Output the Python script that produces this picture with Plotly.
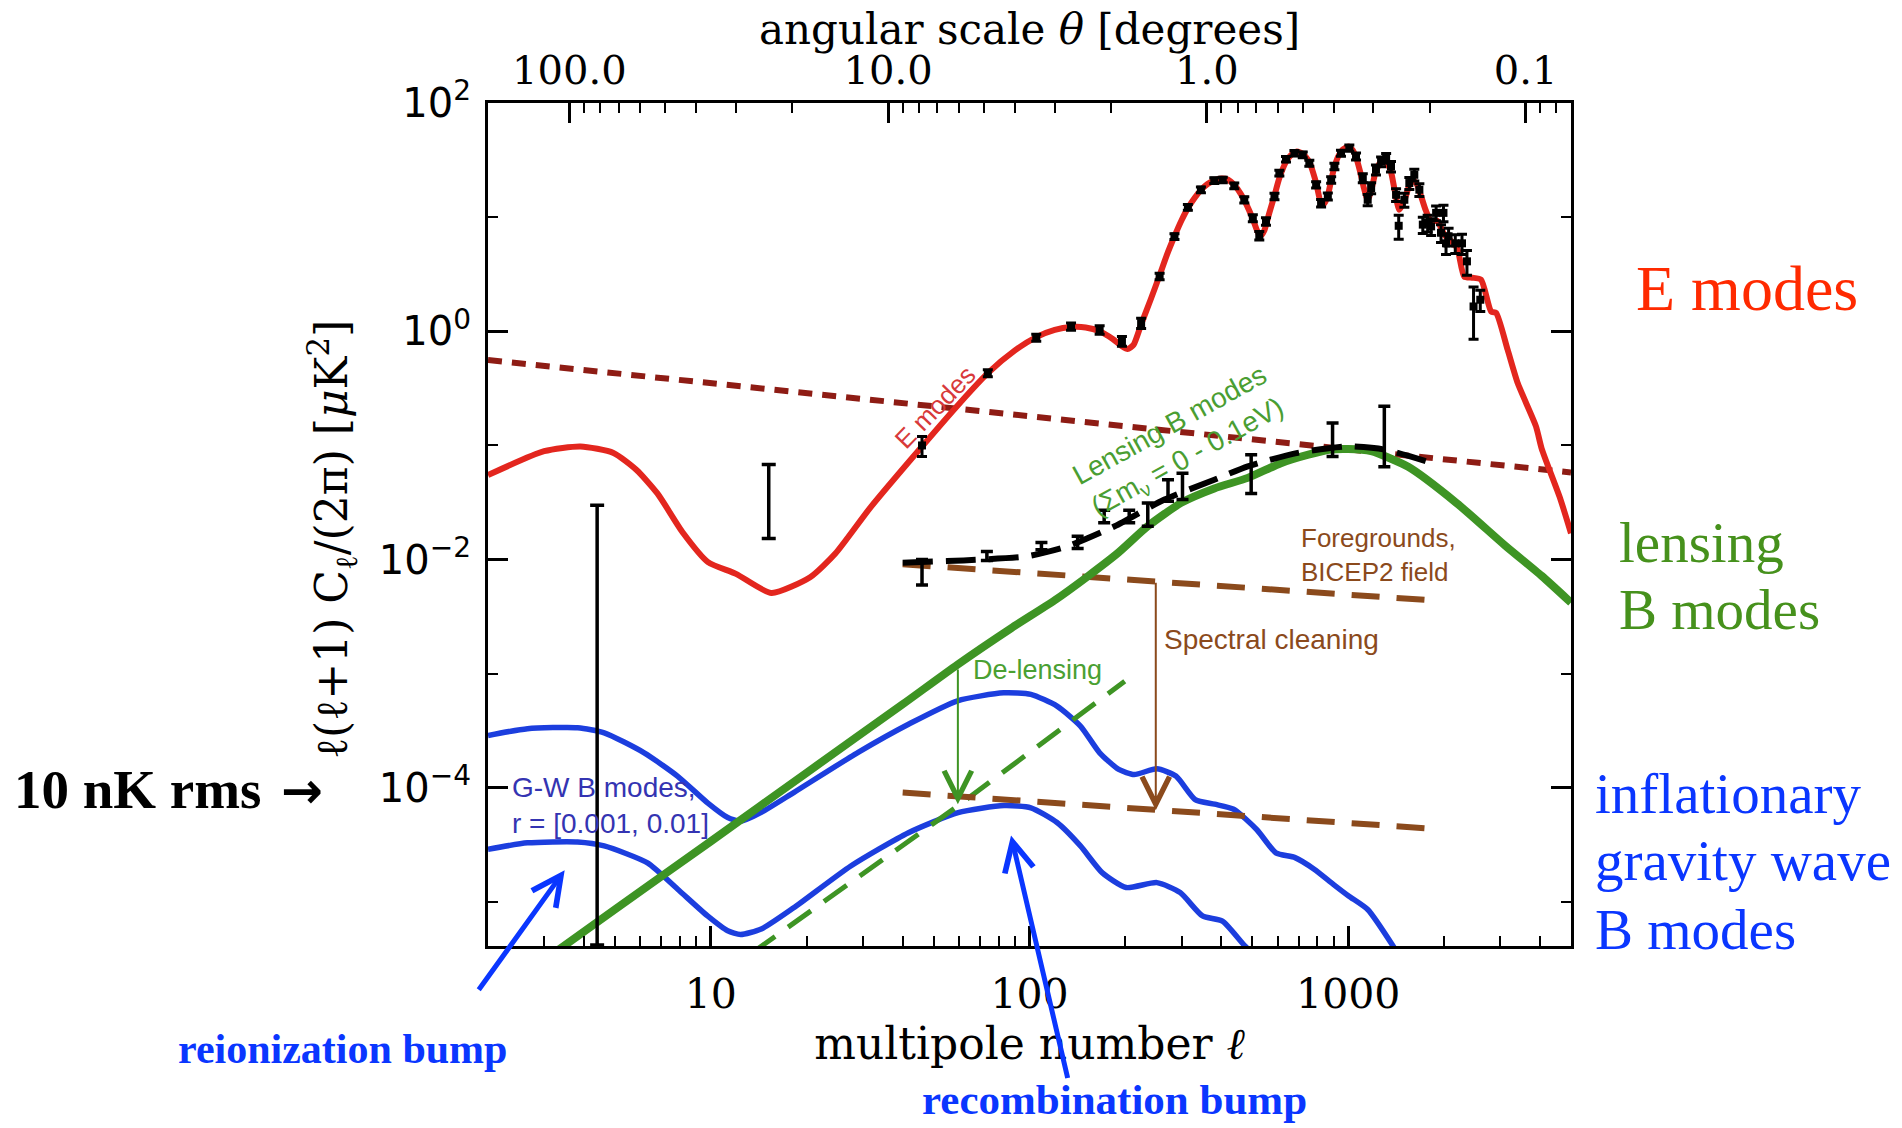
import numpy as np
import plotly.graph_objects as go

# ---------------- data ----------------
# E-mode theory curve
E_curve_l = [2, 3, 3.9, 4.95, 5.85, 6.8, 8.2, 9.8, 12, 15.5, 20.5, 24.6, 31.8, 46, 60, 74, 90, 105, 120, 135,
             150, 166, 182, 195, 203, 212, 224, 240, 256, 270, 285, 300, 314, 330, 345, 362, 380, 400, 420, 440,
             460, 480, 502, 518, 530, 545, 565, 587, 608, 638, 665, 690, 720, 755, 793, 822, 842, 863, 884, 905,
             930, 960, 1000, 1030, 1058, 1090, 1120, 1151, 1180, 1222, 1268, 1300, 1330, 1362, 1400, 1446, 1500,
             1555, 1595, 1640, 1690, 1750, 1820, 1900, 2005, 2100, 2200, 2313, 2450, 2611, 2808, 2911, 3163,
             3404, 3882, 4045, 4613, 5000]
E_curve_c = [0.055, 0.089, 0.098, 0.086, 0.061, 0.038, 0.017, 0.0095, 0.0075, 0.0051, 0.007, 0.0113, 0.029,
             0.098, 0.23, 0.43, 0.68, 0.89, 1.03, 1.09, 1.08, 1.0, 0.86, 0.74, 0.70, 0.76, 1.15, 1.9, 3.1, 4.7,
             6.8, 9.4, 12.0, 14.8, 17.3, 19.5, 21.0, 21.8, 21.3, 19.0, 16.0, 12.8, 9.6, 7.6, 6.8, 7.6, 10.8, 15.5,
             22.0, 30.5, 35.5, 37.6, 36.0, 30.5, 20.0, 13.3, 13.2, 15.5, 21.0, 27.5, 34.0, 39.0, 41.5, 39.0, 33.5,
             25.0, 18.0, 14.2, 17.0, 25.5, 30.5, 30.7, 29.0, 25.0, 17.0, 11.6, 14.0, 19.0, 21.2, 19.5, 15.5, 11.5,
             9.2, 9.3, 7.0, 6.2, 5.3, 3.0, 2.95, 2.83, 1.49, 1.45, 0.69, 0.35, 0.147, 0.094, 0.035, 0.017]

# E-mode measurements
E_data_l = [46, 74, 105, 135, 166, 195, 224, 256, 285, 314, 345, 380, 404, 439, 472, 502, 526, 552, 587, 608,
            638, 678, 720, 755, 793, 822, 863, 884, 905, 949, 1008, 1058, 1111, 1151, 1180, 1222, 1268, 1315,
            1362, 1413, 1440, 1500, 1555, 1612, 1672, 1714, 1775, 1820, 1887, 1955, 1990, 2027, 2065, 2167,
            2275, 2358, 2473, 2596]
E_data_c = [0.100, 0.43, 0.88, 1.10, 1.03, 0.82, 1.18, 3.03, 6.77, 12.2, 17.4, 20.9, 21.2, 18.8, 14.2, 9.8, 6.9,
            9.2, 15.2, 24.3, 32.2, 36.4, 35.2, 29.7, 19.2, 13.3, 15.2, 21.2, 27.8, 36.4, 40.3, 34.0, 22.0, 14.2,
            18.0, 26.0, 30.7, 32.9, 27.8, 15.7, 8.4, 14.2, 19.9, 23.5, 17.4, 8.6, 8.9, 8.3, 10.9, 7.3, 10.9, 5.9,
            6.8, 5.9, 5.9, 4.1, 1.65, 1.89]
E_data_err = [0.020, 0.03, 0.06, 0.08, 0.09, 0.08, 0.12, 0.2, 0.4, 0.7, 1.0, 1.2, 1.2, 1.1, 0.9, 0.7, 0.6, 0.7,
              1.0, 1.4, 1.8, 2.0, 2.0, 1.8, 1.2, 1.0, 1.1, 1.4, 1.8, 2.2, 2.6, 2.4, 2.0, 1.6, 2.0, 2.6, 3.0, 3.2,
              3.0, 2.0, 2.0, 2.0, 2.4, 2.8, 2.2, 1.4, 1.5, 1.4, 1.6, 1.3, 1.8, 1.2, 1.2, 1.1, 1.2, 1.0, 0.8, 0.4]

# large low-ell error bars (no central marker)
big_bar_l = [4.4, 15.2]
big_bar_hi = [0.030, 0.068]
big_bar_lo = [4.2e-6, 0.0153]

# B-mode measurements (lower / upper ends of the bars)
B_data_l = [46, 73.5, 109, 141.6, 171.5, 205.5, 235, 272, 302, 496, 893, 1298]
B_data_lo = [0.0060, 0.0098, 0.0122, 0.0125, 0.021, 0.021, 0.0196, 0.0324, 0.0336, 0.038, 0.080, 0.065]
B_data_hi = [0.0100, 0.0118, 0.0141, 0.0160, 0.027, 0.027, 0.0314, 0.050, 0.057, 0.083, 0.157, 0.22]

# lensing B modes
lensB_l = [3.0, 5, 10, 20, 40, 59.4, 87.5, 120, 152, 190, 235, 299, 380, 484, 615, 750, 884, 1000, 1180, 1542,
           2188, 3104, 4046, 5000]
lensB_c = [3.1e-6, 8.6e-6, 3.4e-5, 1.36e-4, 5.4e-4, 1.2e-3, 2.5e-3, 4.4e-3, 7.1e-3, 0.0115, 0.0196, 0.0314,
           0.042, 0.052, 0.070, 0.083, 0.092, 0.093, 0.089, 0.065, 0.0313, 0.0133, 0.0072, 0.0042]

# lensing B + noise (black dashed)
lensN_l = [40, 55, 70, 98.6, 132, 185, 265, 380, 484, 694, 996, 1300, 1808]
lensN_c = [0.0094, 0.0097, 0.0100, 0.0107, 0.0131, 0.0196, 0.0336, 0.050, 0.0657, 0.086, 0.098, 0.092, 0.071]

# de-lensed residual (green dashed)
delens_l = [13.5, 59.4, 199]
delens_c = [3.6e-6, 6.9e-5, 8.6e-4]

# foregrounds
fg_sync_l = [2, 5000]
fg_sync_c = [0.56, 0.058]
fg_bicep_l = [40, 1816]
fg_bicep_c = [0.0091, 0.0044]
fg_clean_c = [9.1e-5, 4.4e-5]

# gravity-wave B modes, r = 0.01 and r = 0.001
gw1_l = [2.0, 2.66, 3.82, 4.63, 6.18, 7.86, 9.77, 11.3, 12.4, 14.4, 18.2, 29, 42, 59.5, 83, 101, 122, 144.5,
         166, 190.5, 213, 251, 288, 331, 381, 437, 517, 593, 681, 782, 898, 1003, 1151, 1400]
gw1_c = [2.88e-4, 3.3e-4, 3.37e-4, 3.04e-4, 2.03e-4, 1.27e-4, 7.4e-5, 5.5e-5, 5.1e-5, 6.1e-5, 9.1e-5, 2.05e-4,
         3.65e-4, 5.8e-4, 6.8e-4, 6.6e-4, 5.2e-4, 3.48e-4, 2.03e-4, 1.45e-4, 1.31e-4, 1.47e-4, 1.27e-4, 7.9e-5,
         7.2e-5, 6.5e-5, 4.3e-5, 2.7e-5, 2.45e-5, 1.94e-5, 1.43e-5, 1.13e-5, 8.6e-6, 3.9e-6]
gw2_l = [2.0, 2.66, 3.82, 4.63, 6.33, 7.86, 9.77, 11.3, 12.4, 14.4, 18.2, 27.5, 41.7, 59.7, 83.2, 101, 122, 144.5,
         169, 201, 251, 297, 349, 403, 475, 540]
gw2_c = [2.9e-5, 3.3e-5, 3.36e-5, 3.1e-5, 2.2e-5, 1.3e-5, 7.55e-6, 5.6e-6, 5.2e-6, 5.8e-6, 8.9e-6, 2.07e-5,
         4.05e-5, 6.07e-5, 7.0e-5, 6.7e-5, 4.97e-5, 3.1e-5, 1.81e-5, 1.34e-5, 1.48e-5, 1.21e-5, 7.55e-6, 6.8e-6,
         4.1e-6, 3.0e-6]

# axes ticks
x_major = [10, 100, 1000]
x_major_text = ["10", "100", "1000"]
x_minor = [3, 4, 5, 6, 7, 8, 9, 20, 30, 40, 50, 60, 70, 80, 90, 200, 300, 400, 500, 600, 700, 800, 900,
           2000, 3000, 4000]
theta_major = [100, 10, 1, 0.1]
theta_major_text = ["100.0", "10.0", "1.0", "0.1"]
theta_minor = [90, 80, 70, 60, 50, 40, 30, 20, 9, 8, 7, 6, 5, 4, 3, 2, 0.9, 0.8, 0.7, 0.6, 0.5, 0.4, 0.3, 0.2,
               0.09, 0.08]
y_major = [1e2, 1e0, 1e-2, 1e-4]
y_major_text = ["10<sup>2</sup>", "10<sup>0</sup>", "10<sup>\u22122</sup>", "10<sup>\u22124</sup>"]
y_minor = [1e1, 1e-1, 1e-3, 1e-5]

# ---------------- styling ----------------
RED = "#e3261e"
SYNC = "#8e1c14"
BROWN = "#8b4a1c"
GREEN = "#3e9424"
BLUE = "#1c3ede"
GWTXT = "#3434b2"
SANS = "Liberation Sans"
SERIF = "Liberation Serif"
AXF = "DejaVu Serif"

L = np.log10

fig = go.Figure()

def line(x, y, color, width, dash=None, shape="linear"):
    fig.add_trace(go.Scatter(x=x, y=y, mode="lines", hoverinfo="skip",
                             line=dict(color=color, width=width, dash=dash, shape=shape,
                                       smoothing=0.6 if shape == "spline" else None)))

line(gw1_l, gw1_c, BLUE, 5.5, shape="spline")
line(gw2_l, gw2_c, BLUE, 5.5, shape="spline")
line(delens_l, delens_c, GREEN, 5, dash="28px,16px")
line(fg_bicep_l, fg_bicep_c, BROWN, 6, dash="28px,17px")
line(fg_bicep_l, fg_clean_c, BROWN, 6, dash="28px,17px")
line(fg_sync_l, fg_sync_c, SYNC, 6, dash="14px,10px")
line(lensB_l, lensB_c, GREEN, 8, shape="spline")
line(E_curve_l, E_curve_c, RED, 6, shape="spline")
line(lensN_l, lensN_c, "black", 6, dash="30px,13px", shape="spline")

# big low-ell bars
bb_hi = np.array(big_bar_hi)
bb_lo = np.array(big_bar_lo)
fig.add_trace(go.Scatter(x=big_bar_l, y=bb_hi, mode="markers", hoverinfo="skip",
                         marker=dict(size=1, color="rgba(0,0,0,0)"),
                         error_y=dict(type="data", symmetric=False, array=[0, 0],
                                      arrayminus=(bb_hi - bb_lo).tolist(),
                                      color="black", thickness=3.5, width=7)))

# B-mode data
b_lo = np.array(B_data_lo)
b_hi = np.array(B_data_hi)
b_mid = np.sqrt(b_lo * b_hi)
fig.add_trace(go.Scatter(x=B_data_l, y=b_mid, mode="markers", hoverinfo="skip",
                         marker=dict(size=1, color="rgba(0,0,0,0)"),
                         error_y=dict(type="data", symmetric=False, array=(b_hi - b_mid).tolist(),
                                      arrayminus=(b_mid - b_lo).tolist(),
                                      color="black", thickness=3.5, width=6)))

# E-mode data
fig.add_trace(go.Scatter(x=E_data_l, y=E_data_c, mode="markers", hoverinfo="skip",
                         marker=dict(symbol="square", size=8, color="black"),
                         error_y=dict(type="data", array=E_data_err, color="black", thickness=3, width=5)))

# dummy trace so the top (angular scale) axis is drawn
fig.add_trace(go.Scatter(x=theta_major, y=[1, 1, 1, 1], xaxis="x2", mode="markers", hoverinfo="skip",
                         marker=dict(opacity=0)))

# ---------------- annotations ----------------
def px(x):
    return (x - 488) / 1083

def py(y):
    return (946 - y) / 843

ann = []
# inside-plot labels (data coordinates, log10 for log axes)
ann.append(dict(x=1.7046, y=-0.664, xref="x", yref="y", text="E modes", showarrow=False, textangle=-46,
                xanchor="center", yanchor="middle",
                font=dict(family=SANS, size=26, color="#d8393a")))
ann.append(dict(x=2.469, y=-0.971, xref="x", yref="y", showarrow=False, textangle=-29,
                xanchor="center", yanchor="middle",
                text="Lensing B modes<br>(\u03a3m<sub>\u03bd</sub> = 0 - 0.1eV)",
                font=dict(family=SANS, size=28, color="#4a9e32")))
ann.append(dict(x=2.8456, y=-1.956, xref="x", yref="y", showarrow=False, xanchor="left", yanchor="middle",
                align="left", text="Foregrounds,<br>BICEP2 field", font=dict(family=SANS, size=26, color=BROWN)))
ann.append(dict(x=2.4156, y=-2.700, xref="x", yref="y", showarrow=False, xanchor="left", yanchor="middle",
                text="Spectral cleaning", font=dict(family=SANS, size=28, color=BROWN)))
ann.append(dict(x=1.816, y=-2.971, xref="x", yref="y", showarrow=False, xanchor="left", yanchor="middle",
                text="De-lensing", font=dict(family=SANS, size=27, color="#4aa032")))
ann.append(dict(x=0.369, y=-4.153, xref="x", yref="y", showarrow=False, xanchor="left", yanchor="middle",
                align="left", text="G-W B modes,<br>r = [0.001, 0.01]",
                font=dict(family=SANS, size=28, color=GWTXT)))
# de-lensing and spectral-cleaning arrows
ann.append(dict(x=L(59.6), y=-4.143, ax=L(59.6), ay=-2.95, xref="x", yref="y", axref="x", ayref="y",
                text="", showarrow=True, arrowhead=5, arrowsize=2.7, arrowwidth=2, arrowcolor=GREEN, standoff=0))
ann.append(dict(x=L(249), y=-4.195, ax=L(249), ay=-2.19, xref="x", yref="y", axref="x", ayref="y",
                text="", showarrow=True, arrowhead=5, arrowsize=2.7, arrowwidth=2, arrowcolor=BROWN, standoff=0))

# axis titles placed as in the reference
ann.append(dict(x=0.5, y=py(30), xref="paper", yref="paper", showarrow=False, xanchor="center",
                yanchor="middle", text="angular scale <i>\u03b8</i> [degrees]",
                font=dict(family=AXF, size=42, color="black")))
ann.append(dict(x=px(332), y=py(540), xref="paper", yref="paper", showarrow=False, xanchor="center",
                yanchor="middle", textangle=-90,
                text="\u2113(\u2113+1) C<sub>\u2113</sub>/(2\u03c0) [<i>\u03bc</i>K<sup>2</sup>]",
                font=dict(family=AXF, size=44, color="black")))

# outside labels
KRED = "#ff2a00"
KGREEN = "#46911c"
KBLUE = "#0a36ff"
ann.append(dict(x=px(1747), y=py(288), xref="paper", yref="paper", showarrow=False, text="E modes",
                xanchor="center", yanchor="middle",
                font=dict(family=SERIF, size=64, color=KRED)))
for t, yy in [("lensing", 542), ("B modes", 609)]:
    ann.append(dict(x=px(1617), y=py(yy), xref="paper", yref="paper", showarrow=False, xanchor="left",
                    yanchor="middle", text=t, font=dict(family=SERIF, size=57, color=KGREEN)))
for t, yy in [("inflationary", 793), ("gravity wave", 860), ("B modes", 929)]:
    ann.append(dict(x=px(1593), y=py(yy), xref="paper", yref="paper", showarrow=False, xanchor="left",
                    yanchor="middle", text=t, font=dict(family=SERIF, size=57, color=KBLUE)))
ann.append(dict(x=px(12), y=py(789), xref="paper", yref="paper", showarrow=False, xanchor="left",
                yanchor="middle", text="<b>10 nK rms</b>", font=dict(family=SERIF, size=55, color="black")))
ann.append(dict(x=px(302), y=py(791), xref="paper", yref="paper", showarrow=False, xanchor="center",
                yanchor="middle", text="<b>\u2192</b>", font=dict(family="DejaVu Sans", size=50, color="black")))
ann.append(dict(x=px(342), y=py(1049), xref="paper", yref="paper", showarrow=False, xanchor="center",
                yanchor="middle", text="<b>reionization bump</b>",
                font=dict(family=SERIF, size=42, color=KBLUE)))
ann.append(dict(x=px(1114), y=py(1099), xref="paper", yref="paper", showarrow=False, xanchor="center",
                yanchor="middle", text="<b>recombination bump</b>",
                font=dict(family=SERIF, size=43, color=KBLUE)))
# blue pointer arrows
ann.append(dict(x=L(3.48), y=-4.722, xref="x", yref="y", ax=-87, ay=121, text="", showarrow=True,
                arrowhead=5, arrowsize=1.15, arrowwidth=5, arrowcolor=KBLUE, standoff=0))
ann.append(dict(x=L(87.5), y=-4.417, xref="x", yref="y", ax=57, ay=244, text="", showarrow=True,
                arrowhead=5, arrowsize=1.15, arrowwidth=5, arrowcolor=KBLUE, standoff=0))

axis_common = dict(showline=True, linewidth=3, linecolor="black", showgrid=False, zeroline=False,
                   ticks="inside", tickcolor="black", tickwidth=2.5, ticklen=20)

fig.update_layout(
    width=1902, height=1128,
    margin=dict(l=488, r=331, t=103, b=182),
    paper_bgcolor="white", plot_bgcolor="white",
    showlegend=False,
    font=dict(family=AXF, color="black"),
    xaxis=dict(type="log", range=[L(2), L(5000)], tickmode="array", tickvals=x_major, ticktext=x_major_text,
               minor=dict(tickmode="array", tickvals=x_minor, ticks="inside", ticklen=10, tickwidth=2,
                          tickcolor="black"),
               tickfont=dict(family=AXF, size=41, color="black"), ticklabelstandoff=10,
               title=dict(text="multipole number <i>\u2113</i>", font=dict(family=AXF, size=44, color="black"),
                          standoff=6),
               **axis_common),
    xaxis2=dict(type="log", overlaying="x", side="top", anchor="y", range=[L(180), L(0.072)],
                tickmode="array", tickvals=theta_major, ticktext=theta_major_text,
                minor=dict(tickmode="array", tickvals=theta_minor, ticks="inside", ticklen=10, tickwidth=2,
                           tickcolor="black"),
                tickfont=dict(family=AXF, size=40, color="black"), ticklabelstandoff=0,
                **axis_common),
    yaxis=dict(type="log", range=[-5.385, 2], tickmode="array", tickvals=y_major, ticktext=y_major_text,
               minor=dict(tickmode="array", tickvals=y_minor, ticks="inside", ticklen=10, tickwidth=2,
                          tickcolor="black"),
               mirror="ticks",
               tickfont=dict(family="DejaVu Sans", size=40, color="black"), ticklabelstandoff=6,
               **axis_common),
    annotations=ann,
)

fig.write_html("out.html")
